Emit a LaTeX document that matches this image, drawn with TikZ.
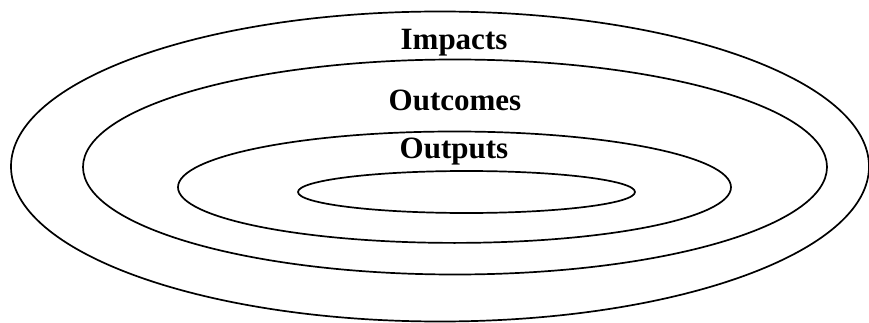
\documentclass[tikz,border=0pt]{standalone}
\usepackage{fontspec}
\setmainfont{Liberation Serif}
\begin{document}
\begin{tikzpicture}[x=1pt,y=-1pt,
  ring/.style={draw=black,line width=1.7pt},
  lbl/.style={font=\fontsize{31}{34}\selectfont\bfseries,anchor=base,inner sep=0pt}]
\useasboundingbox[fill=white] (0,0) rectangle (869,323);
\draw[ring] (440,166.5) ellipse [x radius=429, y radius=155];
\draw[ring] (455,167) ellipse [x radius=372, y radius=107.5];
\draw[ring] (454.5,187.2) ellipse [x radius=276.5, y radius=55.7];
\draw[ring] (466.5,192) ellipse [x radius=168.5, y radius=21];
\node[lbl] (impacts) at (454,49.5) {Impacts};
\node[lbl] (outcomes) at (455,110.5) {Outcomes};
\node[lbl] (outputs) at (454,158.5) {Outputs};
\end{tikzpicture}
\end{document}
